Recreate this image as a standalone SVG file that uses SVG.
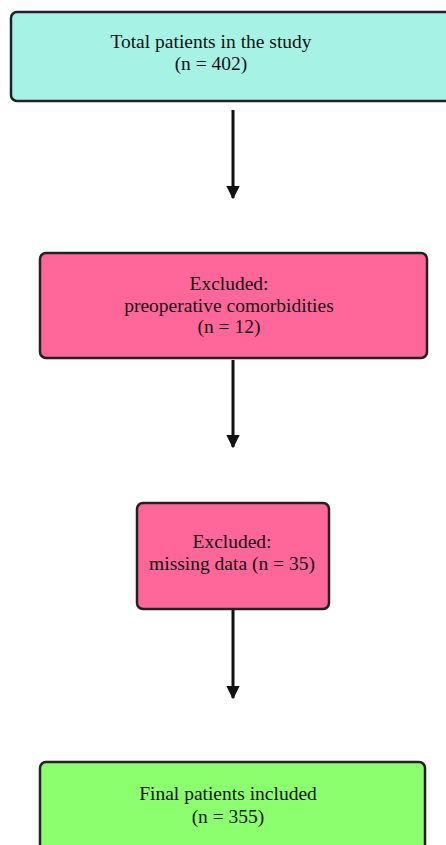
<svg xmlns="http://www.w3.org/2000/svg" width="446" height="845" viewBox="0 0 446 845">
<style>
.box{stroke:#222;stroke-width:2.5}
.t{font-family:"Liberation Serif","Times New Roman",serif;font-size:19.5px;fill:#111;text-anchor:middle}
.c{stroke:#111;stroke-width:3;fill:none}
</style>
<defs>
<marker id="ah" viewBox="0 0 10 10" refX="9" refY="5" markerWidth="4.5" markerHeight="4.5" orient="auto" markerUnits="strokeWidth">
<path d="M0,0 L10,5 L0,10 z" fill="#111"/>
</marker>
</defs>
<rect width="446" height="845" fill="#fff"/>
<g id="n1">
<rect class="box" x="11" y="12" width="445" height="89" rx="6" fill="#a6f3e6"/>
<text class="t" x="211" y="48">Total patients in the study</text>
<text class="t" x="211" y="70">(n = 402)</text>
</g>
<g id="n2">
<rect class="box" x="40" y="253" width="387" height="105" rx="6" fill="#ff6699"/>
<text class="t" x="229" y="290">Excluded:</text>
<text class="t" x="229" y="312">preoperative comorbidities</text>
<text class="t" x="229" y="333">(n = 12)</text>
</g>
<g id="n3">
<rect class="box" x="137" y="503" width="192" height="106" rx="6" fill="#ff6699"/>
<text class="t" x="232" y="548">Excluded:</text>
<text class="t" x="232" y="570">missing data (n = 35)</text>
</g>
<g id="n4">
<rect class="box" x="40" y="762" width="385" height="100" rx="6" fill="#8cff6e"/>
<text class="t" x="228" y="800">Final patients included</text>
<text class="t" x="228" y="823">(n = 355)</text>
</g>
<g id="connectors">
<line class="c" x1="233" y1="110" x2="233" y2="198" marker-end="url(#ah)"/>
<line class="c" x1="233" y1="360" x2="233" y2="447" marker-end="url(#ah)"/>
<line class="c" x1="233" y1="610" x2="233" y2="698" marker-end="url(#ah)"/>
</g>
</svg>
